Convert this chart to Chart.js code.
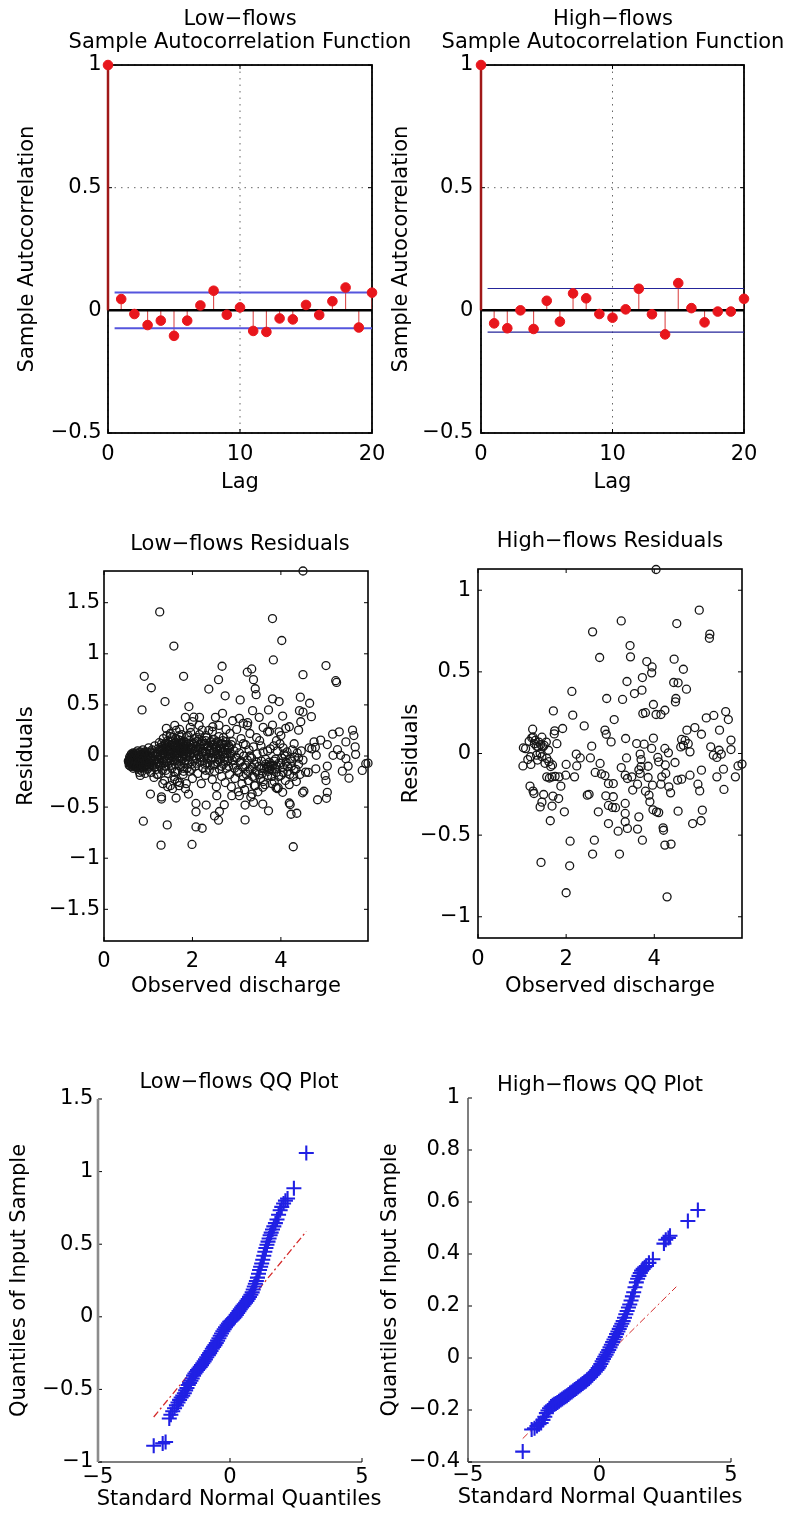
<!DOCTYPE html>
<html>
<head>
<meta charset="utf-8">
<title>Low-flows / High-flows residual diagnostics</title>
<script src="https://cdn.jsdelivr.net/npm/chart.js@4.4.1/dist/chart.umd.min.js"></script>
<style>
  html, body { margin: 0; padding: 0; background: #fff; width: 790px; height: 1530px; overflow: hidden; }
  .panel { position: absolute; }
</style>
</head>
<body>
<canvas id="lowAcf" class="panel" width="480" height="500" style="left:0px;top:0px"></canvas>
<canvas id="highAcf" class="panel" width="486" height="500" style="left:370px;top:0px"></canvas>
<canvas id="lowRes" class="panel" width="480" height="505" style="left:0px;top:500px"></canvas>
<canvas id="highRes" class="panel" width="480" height="505" style="left:370px;top:500px"></canvas>
<canvas id="lowQQ" class="panel" width="478" height="530" style="left:0px;top:1000px"></canvas>
<canvas id="highQQ" class="panel" width="460" height="530" style="left:370px;top:1000px"></canvas>
<script>
// ---- data ----
const lags = [0,1,2,3,4,5,6,7,8,9,10,11,12,13,14,15,16,17,18,19,20];
const lowAcf = [1, 0.046, -0.015, -0.06, -0.042, -0.104, -0.042, 0.02, 0.08, -0.018, 0.012, -0.084, -0.088, -0.033, -0.037, 0.022, -0.019, 0.037, 0.093, -0.07, 0.072];
const highAcf = [1, -0.053, -0.073, 0.0, -0.076, 0.039, -0.046, 0.069, 0.049, -0.015, -0.03, 0.004, 0.088, -0.016, -0.098, 0.111, 0.009, -0.049, -0.005, -0.005, 0.047];
const lowBound = 0.073;
const highBound = 0.089;

const acfXTicks = [0, 10, 20];
const acfYTicks = [-0.5, 0, 0.5, 1];
const resXTicks = [0, 2, 4];
const lowResYTicks = [-1.5, -1, -0.5, 0, 0.5, 1, 1.5];
const highResYTicks = [-1, -0.5, 0, 0.5, 1];
const qqXTicks = [-5, 0, 5];
const lowQQYTicks = [-1, -0.5, 0, 0.5, 1, 1.5];
const highQQYTicks = [-0.4, -0.2, 0, 0.2, 0.4, 0.6, 0.8, 1];

// residuals vs observed discharge, [discharge, residual]
const lowResiduals = [
  [4.5,1.81],[1.26,1.41],[3.81,1.345],[4.02,1.13],[1.58,1.076],[3.83,0.94],[5.02,0.885],[2.67,0.878],[0.91,0.78],[1.8,0.78],
  [4.5,0.796],[3.34,0.852],[3.24,0.82],[3.38,0.747],[2.59,0.747],[5.24,0.737],[5.26,0.72],[3.42,0.658],[1.07,0.668],[2.37,0.655],
  [3.44,0.6],[2.74,0.589],[3.08,0.549],[4.44,0.576],[1.38,0.533],[3.81,0.559],[3.96,0.533],[4.65,0.516],[0.86,0.451],[1.92,0.484],
  [3.36,0.444],[4.42,0.444],[4.5,0.43],[2.68,0.418],[3.72,0.451],[4.69,0.385],[1.84,0.378],[2.03,0.38],[2.16,0.378],[2.52,0.378],
  [3.06,0.368],[3.51,0.378],[4.04,0.391],[4.45,0.335],[3.25,0.326],[2.0,0.336],[2.46,0.286],[2.91,0.345],[3.15,0.319],[3.24,0.3],
  [4.19,0.286],[3.81,0.303],[1.41,0.27],[1.71,0.26],[2.22,0.253],[2.76,0.26],[3.7,0.237],[3.74,0.24],[3.96,0.237],[4.11,0.27],
  [4.4,0.253],[5.32,0.237],[5.62,0.253],[5.65,0.2],[5.17,0.214],[4.9,0.155],[4.75,0.138],[5.05,0.112],[5.47,0.138],[4.64,0.08],
  [4.7,0.07],[4.78,0.085],[5.28,0.062],[5.68,0.089],[5.35,0.007],[5.47,-0.026],[5.69,0.016],[5.18,0.007],[4.8,0.007],[5.05,-0.099],
  [5.52,-0.099],[5.39,-0.148],[5.54,-0.217],[5.84,-0.141],[5.92,-0.075],[5.97,-0.07],[5.0,-0.19],[5.02,-0.24],[4.79,-0.125],[4.56,-0.158],
  [4.62,-0.16],[5.05,-0.355],[4.83,-0.428],[5.03,-0.414],[4.49,-0.36],[4.52,-0.345],[4.19,-0.46],[4.21,-0.475],[4.23,-0.57],[4.36,-0.56],
  [4.28,-0.888],[3.72,-0.536],[3.59,-0.47],[3.38,-0.454],[3.19,-0.48],[3.19,-0.625],[3.06,-0.388],[3.35,-0.372],[2.72,-0.477],[2.61,-0.543],
  [2.5,-0.586],[2.59,-0.628],[2.31,-0.48],[2.08,-0.464],[2.08,-0.546],[2.08,-0.694],[2.22,-0.707],[1.99,-0.865],[1.29,-0.872],[1.43,-0.674],
  [0.89,-0.638],[1.3,-0.421],[1.05,-0.372],[1.63,-0.411],[1.91,-0.372],[2.55,-0.388],[2.89,-0.388],[3.4,-0.29],[3.59,-0.306],[3.89,-0.31],
  [3.92,-0.32],[4.04,-0.355],[1.3,-0.4],
  [2.3,0.2],[2.45,0.24],[2.6,0.3],[2.85,0.22],[3.0,0.26],[3.3,0.22],[3.45,0.18],[3.6,0.28],[2.15,0.3],[1.95,0.28],[1.6,0.3],[1.5,0.22],
  [3.15,0.12],[3.55,0.1],[3.9,0.15],[4.05,0.08],[4.3,0.12],[4.0,0.2],[3.7,0.05],
  [0.8,-0.16],[0.82,-0.19],[1.2,-0.18],[1.33,-0.27],[1.44,-0.3],[1.66,-0.25],[1.7,-0.29],[1.86,-0.27],[1.55,-0.32],[1.6,-0.23],
  // dense band near zero, low discharge
  [0.57,-0.04],[0.58,-0.07],[0.6,-0.02],[0.6,-0.1],[0.62,-0.05],[0.63,0.0],[0.64,-0.08],[0.65,-0.03],[0.66,-0.12],[0.67,0.02],
  [0.68,-0.06],[0.69,-0.01],[0.7,-0.09],[0.71,-0.04],[0.72,0.03],[0.73,-0.11],[0.74,-0.07],[0.75,-0.02],[0.76,0.05],[0.77,-0.05],
  [0.78,-0.13],[0.79,0.0],[0.8,-0.08],[0.81,-0.03],[0.82,0.04],[0.83,-0.1],[0.84,-0.05],[0.85,0.01],[0.86,-0.15],[0.87,-0.07],
  [0.88,0.06],[0.89,-0.02],[0.9,-0.11],[0.91,0.02],[0.92,-0.06],[0.93,-0.17],[0.94,0.0],[0.95,-0.09],
  [0.56,-0.06],[0.59,-0.03],[0.61,-0.08],[0.62,0.02],[0.64,-0.05],[0.66,-0.01],[0.67,-0.09],[0.69,0.01],[0.7,-0.05],[0.72,-0.1],
  [0.73,-0.02],[0.75,-0.08],[0.76,0.02],[0.78,-0.04],[0.79,-0.09],[0.81,0.01],[0.83,-0.06],[0.85,-0.11],[0.86,-0.02],[0.88,-0.08],
  [0.9,0.03],[0.91,-0.05],[0.93,-0.1],[0.95,0.01],[0.96,-0.06],[0.98,-0.13],[1.0,0.0],[1.01,-0.05],[1.03,-0.1],[1.05,0.04],
  [1.06,-0.02],[1.08,-0.09],[1.1,0.03],[1.12,-0.05],[1.14,-0.11],[1.16,0.02],[1.18,-0.07],[1.21,0.04],[1.23,-0.03],[1.25,-0.09],
  [0.55,-0.05],[0.57,-0.09],[0.58,-0.01],[0.6,-0.06],[0.61,0.01],[0.63,-0.04],[0.63,-0.1],[0.65,-0.07],[0.66,0.03],[0.68,-0.03],
  [0.68,-0.1],[0.7,0.0],[0.71,-0.07],[0.73,-0.05],[0.74,0.01],[0.75,-0.11],[0.77,-0.01],[0.78,-0.07],[0.8,0.03],[0.81,-0.11],
  [0.83,-0.02],[0.84,-0.08],[0.86,0.02],[0.87,-0.04],[0.89,-0.1],[0.9,-0.03],[0.92,0.04],[0.94,-0.07],[0.96,-0.02],[0.99,-0.08],
  [0.97,0.04],[0.98,-0.04],[1.0,-0.12],[1.01,0.08],[1.02,-0.02],[1.04,-0.07],[1.05,0.03],[1.06,-0.16],[1.08,-0.05],[1.09,0.06],
  [1.1,-0.1],[1.11,0.0],[1.13,-0.21],[1.14,-0.04],[1.15,0.1],[1.16,-0.08],[1.18,0.02],[1.19,-0.13],[1.2,-0.03],[1.22,0.07],
  [1.23,-0.18],[1.24,-0.06],[1.25,0.13],[1.27,0.01],[1.28,-0.1],[1.29,0.05],
  [1.3,-0.02],[1.31,0.09],[1.32,-0.14],[1.33,0.03],[1.34,0.17],[1.35,-0.06],[1.36,0.07],[1.37,-0.24],[1.38,0.0],[1.39,0.12],
  [1.4,-0.1],[1.41,0.05],[1.42,0.2],[1.43,-0.03],[1.44,0.09],[1.45,-0.17],[1.46,0.02],[1.47,0.14],[1.48,-0.07],[1.49,0.06],
  [1.5,-0.29],[1.51,0.0],[1.52,0.11],[1.53,-0.12],[1.54,0.04],[1.55,0.18],[1.56,-0.04],[1.57,0.08],[1.58,-0.2],[1.59,0.01],
  [1.6,0.13],[1.61,-0.08],[1.62,0.05],[1.63,0.25],[1.64,-0.02],[1.65,0.1],[1.66,-0.15],[1.67,0.03],[1.68,0.16],[1.69,-0.05],
  [1.7,0.07],[1.71,-0.26],[1.72,0.0],[1.73,0.12],[1.74,-0.1],[1.75,0.04],[1.76,0.21],[1.77,-0.03],[1.78,0.08],[1.79,-0.18],
  [1.8,0.02],[1.81,0.14],[1.82,-0.07],[1.83,0.05],[1.84,-0.32],[1.85,0.1],[1.86,-0.01],[1.87,0.19],[1.88,-0.12],[1.89,0.06],
  [1.26,0.06],[1.28,0.0],[1.3,0.12],[1.32,0.05],[1.34,-0.04],[1.36,0.11],[1.38,-0.1],[1.4,0.08],[1.42,-0.05],[1.44,0.15],
  [1.46,0.06],[1.48,-0.02],[1.5,0.1],[1.52,-0.09],[1.54,0.14],[1.56,0.03],[1.58,0.09],[1.6,-0.04],[1.62,0.17],[1.64,0.07],
  [1.66,0.0],[1.68,0.11],[1.7,-0.09],[1.72,0.06],[1.74,0.15],[1.76,-0.01],[1.78,0.12],[1.8,-0.12],[1.82,0.08],[1.84,0.02],
  [1.86,0.13],[1.88,0.04],[1.9,-0.08],[1.92,0.15],[1.94,0.0],[1.96,0.08],[1.98,-0.13],[1.35,0.02],[1.45,0.04],[1.55,-0.01],
  [1.65,0.04],[1.75,0.09],[1.85,0.06],[1.95,0.11],[1.4,-0.14],[1.6,-0.16],[1.8,-0.15],[1.5,0.19],[1.7,0.2],[1.9,0.2],
  [1.32,0.07],[1.37,0.03],[1.42,0.1],[1.47,0.02],[1.52,0.07],[1.57,0.12],[1.62,0.02],[1.67,0.08],[1.72,0.13],[1.77,0.05],
  [1.82,0.1],[1.87,0.01],
  [1.9,-0.04],[1.92,0.09],[1.93,-0.15],[1.95,0.02],[1.96,0.23],[1.98,-0.08],[1.99,0.06],[2.0,-0.22],[2.02,0.12],[2.03,0.0],
  [2.05,0.17],[2.06,-0.1],[2.07,0.05],[2.09,-0.03],[2.1,0.14],[2.12,-0.17],[2.13,0.08],[2.14,0.01],[2.16,0.21],[2.17,-0.06],
  [2.18,0.1],[2.2,-0.27],[2.21,0.04],[2.22,0.15],[2.24,-0.12],[2.25,0.07],[2.26,-0.02],[2.28,0.12],[2.29,-0.19],[2.3,0.03],
  [2.32,0.18],[2.33,-0.07],[2.34,0.09],[2.36,-0.01],[2.37,0.25],[2.38,-0.14],[2.4,0.06],[2.41,0.13],[2.42,-0.04],[2.44,0.02],
  [2.45,-0.23],[2.46,0.11],[2.48,-0.09],[2.49,0.16],[2.5,0.04],[2.52,-0.02],[2.53,0.09],[2.54,-0.3],[2.56,0.14],[2.57,-0.06],
  [2.58,0.01],[2.6,0.19],[2.61,-0.13],[2.62,0.07],[2.64,-0.03],[2.65,0.12],[2.66,-0.2],[2.68,0.04],[2.69,0.15],[2.7,-0.08],
  [2.72,0.08],[2.73,-0.01],[2.74,-0.26],[2.76,0.11],[2.77,-0.12],[2.78,0.03],
  [2.0,0.07],[2.02,-0.04],[2.04,0.13],[2.06,0.03],[2.08,0.09],[2.1,-0.07],[2.12,0.05],[2.14,0.16],[2.16,-0.01],[2.18,0.07],
  [2.2,0.12],[2.22,-0.05],[2.24,0.04],[2.26,0.1],[2.28,-0.08],[2.3,0.15],[2.32,0.02],[2.34,-0.03],[2.36,0.1],[2.38,0.05],
  [2.4,-0.09],[2.42,0.14],[2.44,0.08],[2.46,-0.02],[2.48,0.05],[2.5,0.11],[2.52,-0.08],[2.54,0.07],[2.56,0.02],[2.58,0.13],
  [2.6,-0.04],[2.62,0.1],[2.64,0.05],[2.66,-0.1],[2.68,0.12],[2.7,0.02],[2.72,-0.05],[2.74,0.06],[2.76,0.14],[2.78,-0.02],
  [2.8,0.06],[2.82,-0.1],[2.84,0.08],[2.86,0.0],[2.88,0.11],[2.1,0.18],[2.3,-0.14],[2.5,-0.15],[2.7,0.18],[2.9,-0.04],
  // medium density, mid to high discharge
  [2.8,-0.05],[2.82,0.1],[2.84,-0.18],[2.86,0.02],[2.88,-0.3],[2.9,0.14],[2.92,-0.09],[2.94,0.05],[2.96,-0.22],[2.98,-0.01],
  [3.0,0.08],[3.02,-0.14],[3.04,-0.35],[3.06,0.03],[3.08,-0.06],[3.1,0.17],[3.12,-0.27],[3.14,-0.11],[3.16,0.0],[3.18,-0.33],
  [3.2,0.11],[3.22,-0.18],[3.24,-0.04],[3.26,-0.24],[3.28,0.06],[3.3,-0.13],[3.32,-0.4],[3.34,-0.02],[3.36,-0.2],[3.38,0.09],
  [3.4,-0.08],[3.42,-0.29],[3.44,-0.15],[3.46,0.02],[3.48,-0.35],[3.5,-0.1],[3.52,0.15],[3.54,-0.22],[3.56,-0.05],[3.58,-0.17],
  [3.6,0.04],[3.62,-0.12],[3.64,-0.28],[3.66,-0.08],[3.68,-0.13],[3.7,-0.1],[3.71,-0.15],[3.72,-0.11],[3.74,-0.06],[3.75,-0.13],
  [3.76,0.07],[3.78,-0.1],[3.79,-0.2],[3.8,-0.14],[3.82,-0.09],[3.84,0.1],[3.85,-0.25],[3.87,-0.12],[3.88,-0.03],[3.9,-0.16],
  [3.92,0.05],[3.94,-0.31],[3.96,-0.07],[3.98,0.12],[4.0,-0.19],[4.02,-0.02],[4.05,-0.11],[4.07,0.02],[4.1,-0.24],[4.12,-0.06],
  [4.14,0.04],[4.16,-0.15],[4.19,-0.28],[4.21,-0.03],[4.24,-0.1],[4.26,0.06],[4.29,-0.2],[4.31,-0.01],[4.34,-0.13],[4.37,0.03],
  [4.4,-0.08],[4.43,-0.18],[4.46,0.05],[4.5,-0.04],
  [2.95,-0.12],[3.0,-0.02],[3.05,-0.16],[3.1,-0.05],[3.15,-0.2],[3.2,-0.09],[3.25,-0.15],[3.3,0.0],[3.35,-0.11],[3.4,-0.21],
  [3.45,-0.06],[3.5,-0.18],[3.55,-0.12],[3.6,-0.25],[3.65,-0.03],[3.7,-0.19],[3.75,-0.09],[3.8,-0.27],[3.85,-0.05],[3.9,-0.1],
  [3.95,-0.2],[4.0,-0.07],[4.05,-0.16],[4.1,0.0],[4.15,-0.1],[4.2,-0.18],[4.25,-0.05],[4.3,-0.14],[4.35,-0.25],[4.4,-0.02]
];

const highResiduals = [
  [4.04,1.127],[5.02,0.878],[3.25,0.812],[4.51,0.796],[2.6,0.745],[5.26,0.731],[5.25,0.706],[3.45,0.661],[2.76,0.588],[3.46,0.592],
  [3.83,0.563],[4.45,0.578],[3.95,0.53],[3.94,0.494],[4.66,0.516],[3.73,0.465],[3.38,0.441],[4.44,0.435],[4.54,0.433],[4.73,0.394],
  [2.13,0.38],[3.72,0.388],[3.55,0.367],[2.92,0.337],[3.28,0.331],[4.49,0.337],[4.48,0.316],[3.98,0.3],[1.71,0.261],[4.24,0.265],
  [5.62,0.257],[3.74,0.245],[3.8,0.25],[4.04,0.239],[4.15,0.239],[2.15,0.235],[5.18,0.218],[5.35,0.233],[5.68,0.208],[3.09,0.208],
  [2.41,0.169],[1.24,0.149],[1.92,0.153],[1.74,0.139],[4.92,0.159],[4.74,0.143],[5.48,0.143],[2.88,0.143],[2.91,0.118],[5.07,0.118],
  [3.35,0.092],[3.98,0.094],[2.58,0.045],[3.6,0.061],[3.77,0.057],[3.02,0.071],[4.62,0.086],[4.7,0.08],[4.77,0.06],[4.66,0.05],
  [5.74,0.082],[5.28,0.041],[5.74,0.024],[3.94,0.031],[4.24,0.031],[4.6,0.04],[4.81,0.01],[5.47,0.02],[5.34,-0.01],[5.42,-0.024],
  [5.52,-0.004],[4.32,0.004],[3.68,-0.004],[3.37,-0.027],[2.55,-0.027],[2.23,-0.004],[2.32,-0.027],[3.7,-0.037],[4.08,-0.024],[4.1,-0.051],
  [4.47,-0.055],[4.25,-0.07],[2.77,-0.061],[3.25,-0.086],[2.0,-0.067],[2.24,-0.076],[5.9,-0.076],[5.99,-0.065],[5.57,-0.096],[5.07,-0.102],
  [3.86,-0.078],[3.7,-0.08],[3.65,-0.1],[2.66,-0.116],[2.8,-0.125],[2.88,-0.135],[3.34,-0.133],[3.49,-0.143],[3.68,-0.122],[3.86,-0.147],
  [4.17,-0.143],[4.26,-0.122],[4.81,-0.133],[4.62,-0.157],[4.53,-0.163],[5.84,-0.143],[5.42,-0.143],[1.99,-0.133],[1.84,-0.143],[2.19,-0.143],
  [1.56,-0.143],[1.68,-0.143],[3.39,-0.153],[2.96,-0.184],[3.07,-0.184],[3.62,-0.188],[3.96,-0.194],[3.51,-0.224],[4.15,-0.188],[4.33,-0.204],
  [4.99,-0.188],[1.88,-0.2],[1.18,-0.2],[1.25,-0.23],[1.27,-0.245],[4.37,-0.241],[5.03,-0.229],[5.58,-0.22],[3.8,-0.231],[3.88,-0.255],
  [2.48,-0.255],[2.52,-0.25],[1.49,-0.251],[1.7,-0.261],[1.83,-0.276],[2.9,-0.259],[3.07,-0.265],[1.45,-0.298],[3.9,-0.296],[3.34,-0.306],
  [1.41,-0.327],[1.68,-0.322],[2.96,-0.318],[3.05,-0.33],[3.12,-0.332],[2.73,-0.357],[3.34,-0.367],[4.05,-0.357],[4.1,-0.362],[3.97,-0.345],
  [1.96,-0.357],[4.54,-0.353],[5.09,-0.347],[3.65,-0.388],[1.64,-0.412],[3.34,-0.418],[2.96,-0.429],[4.87,-0.429],[5.06,-0.412],[3.39,-0.459],
  [3.62,-0.463],[4.2,-0.455],[4.21,-0.47],[3.18,-0.476],[2.09,-0.537],[2.64,-0.531],[3.73,-0.531],[4.24,-0.561],[4.38,-0.555],[1.43,-0.667],
  [2.6,-0.616],[3.21,-0.616],[2.08,-0.688],[2.0,-0.853],[4.29,-0.878],
  [1.02,-0.076],[1.03,0.035],[1.08,0.03],[1.16,0.075],[1.22,0.096],[1.13,-0.037],[1.2,-0.067],[1.28,0.06],[1.33,0.045],[1.42,0.055],
  [1.47,0.04],[1.37,0.04],[1.33,-0.01],[1.41,0.0],[1.45,-0.02],[1.56,-0.03],[1.61,-0.05],[1.65,-0.08],[1.25,0.1],[1.45,0.1],
  [1.55,0.07],[1.73,0.12],[1.79,0.06],[1.19,-0.02],[1.69,-0.07],[1.3,0.08],[1.38,0.07],[1.5,0.05],[1.52,-0.06],[1.35,-0.04],
  [1.6,0.02],[1.62,-0.15],[1.75,-0.14]
];

// QQ plots: standard normal quantile vs sample quantile
const lowQQx = [-2.89,-2.55,-2.44,-2.30,-2.24,-2.17,-2.10,-2.03,-1.97,-1.91,-1.85,-1.79,-1.73,-1.68,-1.63,-1.58,-1.53,-1.48,-1.43,-1.38,-1.33,-1.28,-1.23,-1.18,-1.13,-1.08,-1.03,-0.98,-0.93,-0.88,-0.82,-0.77,-0.72,-0.67,-0.62,-0.57,-0.52,-0.47,-0.42,-0.37,-0.32,-0.27,-0.22,-0.17,-0.11,-0.06,-0.01,0.04,0.09,0.14,0.19,0.24,0.29,0.34,0.39,0.44,0.49,0.54,0.59,0.64,0.69,0.74,0.79,0.84,0.88,0.92,0.96,1.00,1.04,1.08,1.12,1.16,1.20,1.24,1.28,1.32,1.36,1.40,1.44,1.48,1.52,1.56,1.61,1.66,1.72,1.78,1.84,1.90,1.96,2.03,2.10,2.18,2.42,2.89];
const lowQQy = [-0.888,-0.872,-0.862,-0.70,-0.675,-0.65,-0.63,-0.61,-0.59,-0.572,-0.556,-0.543,-0.527,-0.507,-0.49,-0.47,-0.455,-0.44,-0.425,-0.405,-0.39,-0.378,-0.366,-0.356,-0.345,-0.333,-0.32,-0.307,-0.293,-0.279,-0.264,-0.25,-0.235,-0.22,-0.207,-0.195,-0.18,-0.164,-0.148,-0.131,-0.115,-0.10,-0.086,-0.072,-0.058,-0.046,-0.034,-0.027,-0.018,-0.009,0.0,0.013,0.026,0.039,0.052,0.064,0.075,0.086,0.097,0.11,0.123,0.137,0.152,0.168,0.188,0.209,0.228,0.247,0.27,0.297,0.322,0.345,0.367,0.393,0.42,0.448,0.474,0.496,0.518,0.539,0.562,0.58,0.601,0.623,0.645,0.67,0.703,0.734,0.757,0.78,0.80,0.815,0.885,1.128];
const lowQQLineX = [-2.89, 2.89];
const lowQQLineY = [-0.69, 0.588];

const highQQx = [-2.92,-2.58,-2.47,-2.38,-2.30,-2.22,-2.15,-2.08,-2.02,-1.96,-1.90,-1.84,-1.78,-1.72,-1.66,-1.60,-1.54,-1.48,-1.42,-1.36,-1.30,-1.24,-1.18,-1.12,-1.06,-1.00,-0.94,-0.88,-0.82,-0.76,-0.70,-0.64,-0.58,-0.52,-0.46,-0.40,-0.34,-0.28,-0.22,-0.16,-0.10,-0.05,0.00,0.05,0.10,0.15,0.20,0.25,0.30,0.35,0.40,0.45,0.50,0.55,0.60,0.65,0.70,0.75,0.80,0.85,0.90,0.95,1.00,1.05,1.10,1.15,1.20,1.25,1.30,1.35,1.40,1.45,1.50,1.55,1.60,1.66,1.72,1.78,1.88,2.03,2.45,2.52,2.62,2.68,3.36,3.74];
const highQQy = [-0.36,-0.275,-0.27,-0.262,-0.255,-0.25,-0.238,-0.226,-0.212,-0.202,-0.193,-0.187,-0.182,-0.178,-0.175,-0.171,-0.166,-0.162,-0.158,-0.153,-0.149,-0.145,-0.14,-0.135,-0.131,-0.126,-0.121,-0.117,-0.112,-0.108,-0.103,-0.098,-0.093,-0.089,-0.084,-0.079,-0.073,-0.066,-0.06,-0.053,-0.046,-0.039,-0.032,-0.023,-0.013,-0.004,0.005,0.013,0.022,0.031,0.041,0.051,0.061,0.071,0.081,0.092,0.102,0.112,0.122,0.132,0.142,0.155,0.168,0.181,0.194,0.206,0.221,0.237,0.253,0.272,0.291,0.305,0.316,0.327,0.336,0.343,0.349,0.354,0.366,0.38,0.44,0.455,0.462,0.47,0.527,0.569];
const highQQLineX = [-2.92, 2.92];
const highQQLineY = [-0.31, 0.274];

// ---- look ----
Chart.defaults.font.family = "'DejaVu Sans', sans-serif";
Chart.defaults.font.size = 21;
Chart.defaults.color = '#000';

const fmt = v => String(v).replace('-', '\u2212');

// matlab style frame: inner ticks, optional dotted grid, box or left/bottom axes
const matlabAxes = {
  id: 'matlabAxes',
  beforeDatasetsDraw(chart, args, o) {
    const { ctx, chartArea: a } = chart;
    const xs = chart.scales.x.ticks.map(t => chart.scales.x.getPixelForValue(t.value));
    const ys = chart.scales.y.ticks.map(t => chart.scales.y.getPixelForValue(t.value));
    ctx.save();
    if (o.grid) {
      ctx.strokeStyle = '#666';
      ctx.lineWidth = 1;
      ctx.setLineDash([1.5, 5]);
      ctx.beginPath();
      xs.forEach(px => { ctx.moveTo(px, a.top); ctx.lineTo(px, a.bottom); });
      ys.forEach(py => { ctx.moveTo(a.left, py); ctx.lineTo(a.right, py); });
      ctx.stroke();
      ctx.setLineDash([]);
    }
    const tl = 4;
    ctx.strokeStyle = '#000';
    ctx.lineWidth = 1;
    ctx.beginPath();
    xs.forEach(px => {
      ctx.moveTo(px, a.bottom); ctx.lineTo(px, a.bottom - tl);
      if (o.box) { ctx.moveTo(px, a.top); ctx.lineTo(px, a.top + tl); }
    });
    ys.forEach(py => {
      ctx.moveTo(a.left, py); ctx.lineTo(a.left + tl, py);
      if (o.box) { ctx.moveTo(a.right, py); ctx.lineTo(a.right - tl, py); }
    });
    ctx.stroke();
    if (o.box) {
      ctx.lineWidth = o.boxWidth;
      ctx.strokeRect(a.left, a.top, a.right - a.left, a.bottom - a.top);
    } else {
      ctx.lineWidth = 1.2;
      ctx.beginPath(); ctx.moveTo(a.left, a.bottom); ctx.lineTo(a.right, a.bottom); ctx.stroke();
      ctx.strokeStyle = o.leftColor;
      ctx.lineWidth = o.leftWidth;
      ctx.beginPath(); ctx.moveTo(a.left, a.top); ctx.lineTo(a.left, a.bottom); ctx.stroke();
    }
    ctx.restore();
  }
};

// g = geometry of the panel, ax = axes content
function makeChart(id, g, ax, datasets) {
  return new Chart(document.getElementById(id), {
    type: 'scatter',
    data: { datasets: datasets },
    plugins: [matlabAxes],
    options: {
      responsive: false,
      animation: false,
      events: [],
      plugins: {
        legend: { display: false },
        tooltip: { enabled: false },
        title: {
          display: true, text: ax.title, color: '#000',
          font: { size: 21, weight: 'normal', lineHeight: 1.11 },
          padding: { top: g.tTop, bottom: g.tBot }
        },
        subtitle: {
          display: !!ax.xSub, position: 'bottom', text: ax.xSub || '', color: '#000',
          font: { size: 21, weight: 'normal', lineHeight: 1.2 },
          padding: { top: 0, bottom: g.subBot || 0 }
        },
        matlabAxes: ax.frame
      },
      scales: {
        x: {
          type: 'linear', min: ax.xMin, max: ax.xMax,
          afterBuildTicks: s => { s.ticks = ax.xTicks.map(v => ({ value: v })); },
          afterFit: s => { s.height = g.xH; },
          ticks: { padding: g.xPad, autoSkip: false, maxRotation: 0, callback: fmt },
          grid: { display: false, drawTicks: false },
          border: { display: false },
          title: { display: !!ax.xLabel, text: ax.xLabel || '', padding: { top: 0, bottom: g.xtPad || 0 } }
        },
        y: {
          type: 'linear', min: ax.yMin, max: ax.yMax,
          afterBuildTicks: s => { s.ticks = ax.yTicks.map(v => ({ value: v })); },
          afterFit: s => { s.width = g.yW; },
          ticks: { padding: g.yPad, autoSkip: false, callback: fmt },
          grid: { display: false, drawTicks: false },
          border: { display: false },
          title: { display: true, text: ax.yLabel, padding: { top: g.ytPad, bottom: 0 } }
        },
        pad: {
          type: 'linear', position: 'right', display: true,
          ticks: { display: false },
          grid: { display: false, drawTicks: false },
          border: { display: false },
          afterFit: s => { s.width = g.padW; }
        }
      }
    }
  });
}

function acfDatasets(acf, bound, boundColor, boundWidth) {
  const stems = [];
  lags.slice(1).forEach(k => { stems.push({ x: k, y: 0 }, { x: k, y: acf[k] }, { x: k, y: null }); });
  return [
    { type: 'scatter', data: lags.map(k => ({ x: k, y: acf[k] })), pointRadius: 4.8,
      backgroundColor: '#e8161c', borderColor: '#e8161c', borderWidth: 1, clip: false, order: 0 },
    { type: 'line', data: [{ x: 0, y: 0 }, { x: 0, y: acf[0] }], borderColor: '#a01818',
      borderWidth: 2.5, pointRadius: 0, clip: false, order: 1 },
    { type: 'line', data: [{ x: lags[0], y: 0 }, { x: lags[lags.length - 1], y: 0 }], borderColor: '#000',
      borderWidth: 2.5, pointRadius: 0, clip: false, order: 2 },
    { type: 'line', data: [{ x: 0.5, y: bound }, { x: 20, y: bound }], borderColor: boundColor,
      borderWidth: boundWidth, pointRadius: 0, order: 3 },
    { type: 'line', data: [{ x: 0.5, y: -bound }, { x: 20, y: -bound }], borderColor: boundColor,
      borderWidth: boundWidth, pointRadius: 0, order: 3 },
    { type: 'line', data: stems, borderColor: '#dd4b4b', borderWidth: 1.1, pointRadius: 0,
      spanGaps: false, order: 4 }
  ];
}

function residualDatasets(points) {
  return [{
    type: 'scatter', data: points.map(p => ({ x: p[0], y: p[1] })),
    pointStyle: 'circle', pointRadius: 4, backgroundColor: 'rgba(0,0,0,0)',
    borderColor: '#161616', borderWidth: 1.3, clip: false
  }];
}

function qqDatasets(xs, ys, lx, ly, lineWidth) {
  return [
    { type: 'scatter', data: xs.map((x, i) => ({ x: x, y: ys[i] })), pointStyle: 'cross',
      pointRadius: 7.5, borderColor: '#2020e4', borderWidth: 2.1, clip: false, order: 0 },
    { type: 'line', data: lx.map((x, i) => ({ x: x, y: ly[i] })), borderColor: '#d42a2a',
      borderWidth: lineWidth, borderDash: [7, 3, 2, 3], pointRadius: 0, order: 1 }
  ];
}

// ---- panels ----
makeChart('lowAcf',
  { yW: 108, padW: 108, xH: 67, tTop: 8, tBot: 10.4, xPad: 9.4, xtPad: 4.4, ytPad: 15, yPad: 6.3 },
  { title: ['Low\u2212flows', 'Sample Autocorrelation Function'], xLabel: 'Lag', yLabel: 'Sample Autocorrelation',
    xMin: 0, xMax: 20, yMin: -0.5, yMax: 1, xTicks: acfXTicks, yTicks: acfYTicks,
    frame: { box: true, grid: true, boxWidth: 1.8 } },
  acfDatasets(lowAcf, lowBound, '#5555dd', 2));

makeChart('highAcf',
  { yW: 111, padW: 112, xH: 67, tTop: 8, tBot: 10.4, xPad: 9.4, xtPad: 4.4, ytPad: 19, yPad: 7.7 },
  { title: ['High\u2212flows', 'Sample Autocorrelation Function'], xLabel: 'Lag', yLabel: 'Sample Autocorrelation',
    xMin: 0, xMax: 20, yMin: -0.5, yMax: 1, xTicks: acfXTicks, yTicks: acfYTicks,
    frame: { box: true, grid: true, boxWidth: 1.8 } },
  acfDatasets(highAcf, highBound, '#25259a', 1.2));

makeChart('lowRes',
  { yW: 104, padW: 112, xH: 64, tTop: 33.3, tBot: 14.4, xPad: 8.4, xtPad: 5.4, ytPad: 13.9, yPad: 4 },
  { title: 'Low\u2212flows Residuals', xLabel: 'Observed discharge', yLabel: 'Residuals',
    xMin: 0, xMax: 5.97, yMin: -1.81, yMax: 1.81, xTicks: resXTicks, yTicks: lowResYTicks,
    frame: { box: true, grid: false, boxWidth: 1.6 } },
  residualDatasets(lowResiduals));

makeChart('highRes',
  { yW: 108, padW: 108, xH: 67, tTop: 29.7, tBot: 16, xPad: 9.4, xtPad: 5.4, ytPad: 28.9, yPad: 7 },
  { title: 'High\u2212flows Residuals', xLabel: 'Observed discharge', yLabel: 'Residuals',
    xMin: 0, xMax: 5.99, yMin: -1.13, yMax: 1.13, xTicks: resXTicks, yTicks: highResYTicks,
    frame: { box: true, grid: false, boxWidth: 1.6 } },
  residualDatasets(highResiduals));

makeChart('lowQQ',
  { yW: 98, padW: 116, xH: 25.4, tTop: 70.4, tBot: 5.3, xPad: 3.4, subBot: 17.4, ytPad: 6.7, yPad: 4.7 },
  { title: 'Low\u2212flows QQ Plot', xSub: 'Standard Normal Quantiles', yLabel: 'Quantiles of Input Sample',
    xMin: -5, xMax: 5, yMin: -1, yMax: 1.5, xTicks: qqXTicks, yTicks: lowQQYTicks,
    frame: { box: false, grid: false, leftColor: '#8c8c8c', leftWidth: 2.6 } },
  qqDatasets(lowQQx, lowQQy, lowQQLineX, lowQQLineY, 1.3));

makeChart('highQQ',
  { yW: 98, padW: 99, xH: 23.4, tTop: 73.4, tBot: 1.3, xPad: 1.4, subBot: 19.4, ytPad: 7.9, yPad: 8 },
  { title: 'High\u2212flows QQ Plot', xSub: 'Standard Normal Quantiles', yLabel: 'Quantiles of Input Sample',
    xMin: -5, xMax: 5, yMin: -0.4, yMax: 1, xTicks: qqXTicks, yTicks: highQQYTicks,
    frame: { box: false, grid: false, leftColor: '#555', leftWidth: 1.5 } },
  qqDatasets(highQQx, highQQy, highQQLineX, highQQLineY, 1));
</script>
</body>
</html>
